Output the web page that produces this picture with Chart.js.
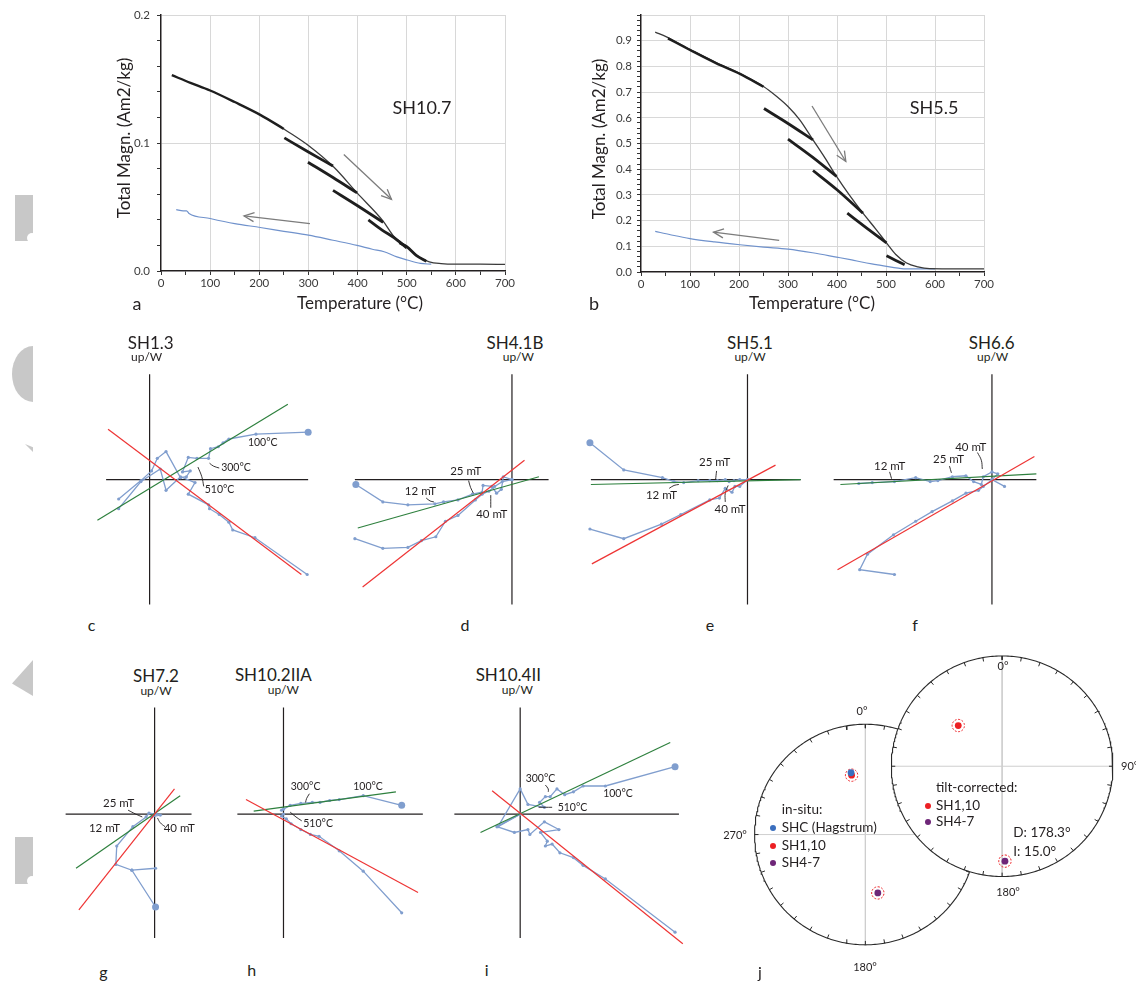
<!DOCTYPE html>
<html><head><meta charset="utf-8">
<script src="https://cdn.jsdelivr.net/npm/chart.js@4.4.0/dist/chart.umd.min.js"></script>
<style>
html,body{margin:0;padding:0;background:#fff;}
body{width:1136px;height:983px;position:relative;overflow:hidden;font-family:Lato,'Liberation Sans',sans-serif;color:#231f20;}
canvas{position:absolute;}
.tx{position:absolute;white-space:nowrap;line-height:1;}
.wm{position:absolute;background:#c8c8c8;}
.dot{position:absolute;width:6px;height:6px;border-radius:50%;transform:translate(-50%,-50%);}
</style></head><body>
<div class="wm" style="left:15px;top:195px;width:18px;height:46px;border-bottom-right-radius:0;"></div>
<div style="position:absolute;left:27px;top:233px;width:10px;height:10px;border-radius:50%;background:#fff;"></div>
<div class="wm" style="left:12px;top:346px;width:21px;height:56px;border-radius:100% 0 0 100% / 50% 0 0 50%;"></div>
<div class="wm" style="left:25px;top:444px;width:8px;height:8px;clip-path:polygon(0 0,100% 40%,100% 100%);"></div>
<div class="wm" style="left:12px;top:660px;width:21px;height:36px;clip-path:polygon(0 65%,100% 0,100% 100%);"></div>
<div class="wm" style="left:15px;top:837px;width:18px;height:47px;"></div>
<div style="position:absolute;left:27px;top:876px;width:10px;height:10px;border-radius:50%;background:#fff;"></div>
<script>
// ===================== DATA =====================
// Panel a (SH10.7): [temperature °C, magnetisation Am2/kg]
const aHeatEarly = [[22,0.153],[60,0.147],[100,0.141],[150,0.132],[202,0.122],[250,0.111]];
const aHeatMain  = [[250,0.111],[300,0.098],[352,0.081],[399,0.061],[452,0.039],[474,0.027],[501,0.019],[525,0.011],[546,0.0072],[570,0.0058],[597,0.0053],[650,0.0053],[702,0.0052]];
const aCycle1 = [[251,0.104],[300,0.093],[350,0.082]];
const aCycle2 = [[299,0.085],[350,0.073],[399,0.061]];
const aCycle3 = [[350,0.063],[400,0.051],[452,0.038]];
const aCycle4 = [[422,0.040],[450,0.032],[474,0.026],[500,0.018]];
const aCycle5 = [[485,0.022],[500,0.019],[520,0.012],[540,0.0075]];
const aCool = [[31,0.048],[45,0.047],[52,0.047],[57,0.045],[100,0.041],[150,0.037],[202,0.034],[250,0.031],[300,0.028],[350,0.024],[399,0.020],[430,0.017],[454,0.015],[480,0.011],[501,0.0086],[528,0.006],[550,0.0053]];
const aArrows = [[[372,0.091],[469,0.056]],[[303,0.037],[169,0.043]]];
// Panel b (SH5.5)
const bHeatEarly = [[55,0.909],[100,0.864],[154,0.812],[202,0.771],[250,0.721]];
const bHeatMain  = [[29,0.933],[52,0.915],[100,0.866],[154,0.814],[202,0.772],[250,0.722],[277,0.683],[300,0.644],[324,0.592],[351,0.514],[375,0.445],[399,0.372],[425,0.300],[453,0.229],[480,0.165],[501,0.113],[520,0.068],[542,0.035],[565,0.020],[589,0.013],[650,0.012],[700,0.012]];
const bCycle1 = [[251,0.636],[300,0.578],[351,0.514]];
const bCycle2 = [[300,0.517],[350,0.447],[399,0.372]];
const bCycle3 = [[351,0.395],[400,0.320],[453,0.229]];
const bCycle4 = [[421,0.229],[460,0.172],[501,0.113]];
const bCycle5 = [[501,0.063],[520,0.045],[538,0.028]];
const bCool = [[29,0.158],[60,0.145],[100,0.130],[150,0.117],[202,0.106],[250,0.097],[300,0.089],[350,0.075],[399,0.058],[430,0.047],[453,0.038],[480,0.029],[501,0.022],[525,0.015],[542,0.012],[600,0.012]];
const bArrows = [[[349,0.646],[418,0.430]],[[282,0.123],[148,0.155]]];
// tick values
const tempTicks = [0,50,100,150,200,250,300,350,400,450,500,550,600,650,700];
const aMagTicks = [0,0.02,0.04,0.06,0.08,0.1,0.12,0.14,0.16,0.18,0.2];
const bMagTicks = Array.from({length:51},(_,i)=>Math.round(i*2)/100);

// Zijderveld diagrams (relative units, x → right, y → up/W)
const cHor = [[164,49],[110,47],[82,42],[76,38],[71,34],[63,32],[61,22],[49,22],[40,23],[34,8],[42,9],[38,3],[32,2],[17,29],[8,22],[2,9],[-9,-1],[-32,-20]];
const cVer = [[163,-98],[109,-60],[86,-52],[82,-44],[72,-36],[62,-30],[61,-26],[40,-15],[47,-3],[32,3],[17,-11],[11,11],[-9,-2],[-32,-30]];
const cGreen = [[-54,-42],[143,78]];
const cRed = [[-43,52],[157,-98]];
const cAxisX = [-45,164], cAxisY = [-129,109];
const cText = [[117,38,'100°C','center'],[74,12,'300°C','left'],[57,-10,'510°C','left']];
const cLead = [[[62,17],[66,14],[72,12]],[[50,13],[54,3],[56,-7]]];

const dHor = [[-162,-5],[-134,-23],[-108,-26],[-80,-25],[-71,-23],[-56,-21],[-41,-15],[-31,-13],[-30,-6],[-21,-7],[-16,-14],[-11,-10],[-9,3],[0,0]];
const dVer = [[-163,-61],[-134,-71],[-108,-70],[-94,-63],[-79,-59],[-69,-43],[-56,-37],[-38,-21],[-31,-15],[-24,-12],[-18,-7],[-10,-2],[0,0]];
const dGreen = [[-160,-50],[28,3]];
const dRed = [[-155,-111],[13,20]];
const dAxisX = [-163,38], dAxisY = [-129,109];
const dText = [[-48,9,'25 mT','center'],[-95,-12,'12 mT','center'],[-21,-36,'40 mT','center']];
const dLead = [[[-45,-1],[-43,-8],[-40,-14]],[[-89,-19],[-85,-22],[-81,-23]],[[-22,-16],[-22,-29]]];

const eHor = [[-163,38],[-128,10],[-88,2],[-76,-2],[-66,-3],[-51,-1],[-39,-1],[-31,-1],[-23,0],[-19,-2],[-14,-1],[-8,0],[0,0]];
const eVer = [[-163,-51],[-128,-61],[-89,-46],[-69,-36],[-39,-21],[-29,-19],[-23,-9],[-16,-13],[-13,-7],[-8,-7],[0,0]];
const eGreen = [[-162,-5],[55,0]];
const eRed = [[-161,-87],[29,15]];
const eAxisX = [-162,55], eAxisY = [-129,109];
const eText = [[-34,18,'25 mT','center'],[-89,-16,'12 mT','center'],[-18,-31,'40 mT','center']];
const eLead = [[[-32,9],[-33,0]],[[-81,-9],[-76,-6],[-71,-5]],[[-20,-6],[-23,-14],[-23,-23]]];

const fHor = [[-138,-4],[-124,-3],[-101,-2],[-79,2],[-64,-2],[-56,-1],[-41,3],[-27,4],[-19,-2],[-11,-5],[-9,3],[0,8],[6,6],[0,0],[13,-7]];
const fVer = [[-101,-98],[-137,-93],[-129,-77],[-102,-57],[-79,-43],[-62,-33],[-41,-22],[-27,-14],[-14,-11],[-9,-7],[0,0]];
const fGreen = [[-157,-5],[46,6]];
const fRed = [[-160,-93],[44,24]];
const fAxisX = [-164,46], fAxisY = [-129,109];
const fText = [[-106,14,'12 mT','center'],[-45,21,'25 mT','center'],[-22,33,'40 mT','center']];
const fLead = [[[-106,8],[-104,1]],[[-44,14],[-42,7]],[[-15,28],[-11,20],[-10,11]]];

const gHor = [[1,-96],[-24,-58],[-41,-52],[-40,-33],[-23,-13],[-9,-3],[-6,1],[2,0],[6,-1],[-3,-3],[0,0]];
const gVer = [[1,-56],[-24,-58]];
const gGreen = [[-83,-56],[27,19]];
const gRed = [[-80,-99],[21,26]];
const gAxisX = [-94,39], gAxisY = [-128,110];
const gText = [[-38,11,'25 mT','center'],[-53,-15,'12 mT','center'],[26,-15,'40 mT','center']];
const gLead = [[[-28,4],[-20,0],[-13,-3]],[[11,-13],[6,-9],[3,-4]]];

const hHor = [[123,9],[83,19],[58,15],[48,14],[38,12],[30,12],[18,11],[7,9],[0,5],[-2,4]];
const hVer = [[123,-102],[83,-59],[58,-38],[37,-23],[28,-21],[18,-16],[8,-10],[3,-5],[-2,-2],[0,0]];
const hGreen = [[-31,3],[117,23]];
const hRed = [[-39,15],[140,-81]];
const hAxisX = [-48,145], hAxisY = [-128,110];
const hText = [[23,28,'300°C','center'],[88,28,'100°C','center'],[36,-10,'510°C','center']];
const hLead = [[[27,21],[24,16],[23,12]],[[7,2],[13,-3],[19,-7]]];

const iHor = [[160,49],[88,29],[65,29],[55,23],[46,20],[38,26],[31,18],[26,18],[20,12],[25,7],[8,10],[0,26],[-23,-13],[0,0]];
const iVer = [[160,-122],[88,-67],[65,-53],[55,-45],[41,-40],[33,-31],[26,-33],[28,-28],[21,-19],[40,-16],[25,-8],[10,-21],[8,-16],[-6,-19],[-24,-13],[0,0]];
const iGreen = [[-41,-19],[155,74]];
const iRed = [[-29,24],[168,-134]];
const iAxisX = [-68,164], iAxisY = [-128,110];
const iText = [[21,37,'300°C','center'],[101,21,'100°C','center'],[54,7,'510°C','center']];
const iLead = [[[26,30],[29,26],[29,23]],[[19,7],[33,7]]];

// Stereonets (equal area): declination, inclination, alpha95
const inSituNames = ['SHC (Hagstrum)','SH1,10','SH4-7'];
const inSituDec = [347, 347, 168];
const inSituInc = [42, 44, 45];
const inSituA95 = [0, 4, 4];
const tiltNames = ['SH1,10','SH4-7'];
const tiltDec = [313, 178.3];
const tiltInc = [45, 15];
const tiltA95 = [4, 4];

// ===================== DRAWING =====================
const FONT = "Lato, 'Liberation Sans', sans-serif";
Chart.defaults.font.family = FONT;
Chart.defaults.animation = false;
const BLUE = 'rgb(128,158,206)';
const GREEN = 'rgb(46,128,62)';
const RED = 'rgb(238,52,52)';
const INK = '#231f20';
const P = arr => arr.map(p => ({x:p[0], y:p[1]}));

function mkCanvas(l,t,w,h){
  const c=document.createElement('canvas');
  c.width=w;c.height=h;c.style.left=l+'px';c.style.top=t+'px';c.style.width=w+'px';c.style.height=h+'px';
  document.body.appendChild(c);return c;
}
function addText(txt,x,y,size,align,extra){
  const d=document.createElement('div');d.className='tx';d.textContent=txt;
  d.style.left=x+'px';d.style.top=y+'px';d.style.fontSize=size+'px';
  d.style.transform = align==='left' ? 'translate(0,-50%)' : 'translate(-50%,-50%)';
  if(extra) Object.assign(d.style,extra);
  document.body.appendChild(d);return d;
}
const ln = (pts,color,width,extra) => Object.assign({data:P(pts),showLine:true,borderColor:color,borderWidth:width,pointRadius:0,fill:false},extra||{});

function arrowPlugin(list){return {id:'arrows',afterDatasetsDraw(chart){
  const {ctx,scales:{x,y}}=chart;ctx.save();ctx.strokeStyle='#7c7c7c';ctx.lineWidth=1.3;
  list.forEach(a=>{const x1=x.getPixelForValue(a[0][0]),y1=y.getPixelForValue(a[0][1]),x2=x.getPixelForValue(a[1][0]),y2=y.getPixelForValue(a[1][1]);
    const g=Math.atan2(y2-y1,x2-x1);ctx.beginPath();ctx.moveTo(x1,y1);ctx.lineTo(x2,y2);ctx.stroke();
    ctx.beginPath();ctx.moveTo(x2-11*Math.cos(g-0.42),y2-11*Math.sin(g-0.42));ctx.lineTo(x2,y2);ctx.lineTo(x2-11*Math.cos(g+0.42),y2-11*Math.sin(g+0.42));ctx.stroke();});
  ctx.restore();}};}

const isMajor = (v,m) => Math.abs(v/m-Math.round(v/m))<1e-6;

function thermo(box, area, yMax, yTicks, yLabelMax, yPad, heat, cycles, cool, arrows){
  const cv=mkCanvas(box[0],box[1],box[2],box[3]);
  const ds=[];
  ds.push(ln(cool,'rgb(112,146,204)',1.2,{order:5,cubicInterpolationMode:'monotone'}));
  ds.push(ln(heat[1],'#3a3a3a',1.3,{order:3,cubicInterpolationMode:'monotone'}));
  ds.push(ln(heat[0],'#1e1e1e',2.4,{order:2,cubicInterpolationMode:'monotone'}));
  cycles.forEach(c=>ds.push(ln(c,'#1e1e1e',2.8,{order:1,cubicInterpolationMode:'monotone'})));
  return new Chart(cv,{type:'scatter',data:{datasets:ds},options:{
    responsive:false,events:[],animation:false,
    layout:{padding:{left:0,top:area[1],right:box[2]-area[2],bottom:0}},
    plugins:{legend:{display:false},tooltip:{enabled:false}},
    scales:{
      x:{type:'linear',min:0,max:700,
        afterBuildTicks:s=>{s.ticks=tempTicks.map(v=>({value:v}));},
        afterFit:s=>{s.height=box[3]-area[3];},
        ticks:{autoSkip:false,maxRotation:0,minRotation:0,padding:1,color:'#3a3a3a',font:{size:11.5},callback:v=>isMajor(v,100)?String(v):''},
        grid:{color:c=>(c.tick&&isMajor(c.tick.value,100)&&c.tick.value>0)?'#d8d8d8':'rgba(0,0,0,0)',tickColor:'#333',tickLength:4,lineWidth:1},
        border:{color:INK,width:1.5}},
      y:{type:'linear',min:0,max:yMax,
        afterBuildTicks:s=>{s.ticks=yTicks.map(v=>({value:v}));},
        afterFit:s=>{s.width=area[0];},
        ticks:{autoSkip:false,padding:yPad,color:'#3a3a3a',font:{size:11.5},callback:v=>(isMajor(v,0.1)&&v<=yLabelMax+1e-9)?v.toFixed(1):''},
        grid:{color:c=>(c.tick&&isMajor(c.tick.value,0.1)&&c.tick.value>0)?'#d8d8d8':'rgba(0,0,0,0)',tickColor:'#333',tickLength:4,lineWidth:1},
        border:{color:INK,width:1.5}}
    }},plugins:[arrowPlugin(arrows)]});
}

// panel a: canvas 95..520 x 0..320 ; chart area 161..505 x 15..271
thermo([95,0,425,320],[66,15,410,271],0.2,aMagTicks,0.2,7,[aHeatEarly,aHeatMain],[aCycle1,aCycle2,aCycle3,aCycle4,aCycle5],aCool,aArrows);
// panel b: canvas 575..1000 ; chart area 641..984 x 15..272
thermo([575,0,425,320],[66,15,409,272],1.0,bMagTicks,0.9,5,[bHeatEarly,bHeatMain],[bCycle1,bCycle2,bCycle3,bCycle4,bCycle5],bCool,bArrows);

addText('Temperature (°C)',360,302,17);
addText('Temperature (°C)',812,302,17);
addText('Total Magn. (Am2/kg)',123,138,17,'c',{transform:'translate(-50%,-50%) rotate(-90deg)'});
addText('Total Magn. (Am2/kg)',598,139,17,'c',{transform:'translate(-50%,-50%) rotate(-90deg)'});
addText('SH10.7',422,107,18);
addText('SH5.5',934,107,18);
addText('a',137,303,18);
addText('b',594,303,18);

function textPlugin(items){return {id:'ztext',afterDatasetsDraw(chart){
  const {ctx,scales:{x,y}}=chart;ctx.save();ctx.fillStyle=INK;ctx.textBaseline='middle';
  items.forEach(it=>{ctx.font=(it[2].indexOf('mT')>=0?'11.5px ':'10.5px ')+FONT;ctx.textAlign=it[3];ctx.fillText(it[2],x.getPixelForValue(it[0]),y.getPixelForValue(it[1]));});
  ctx.restore();}};}

function zij(box, origin, hor, ver, green, red, axX, axY, texts, leads, bigFirst){
  const cv=mkCanvas(box[0],box[1],box[2],box[3]);
  const ds=[];
  ds.push(ln([[axX[0],0],[axX[1],0]],INK,1.2,{order:20}));
  ds.push(ln([[0,axY[1]],[0,axY[0]]],INK,1.2,{order:20}));
  const bl = big => ({order:10,pointRadius:c=>(big&&c.dataIndex===0)?3.5:1.6,pointBackgroundColor:BLUE,pointBorderColor:BLUE,pointBorderWidth:0});
  ds.push(ln(hor,BLUE,1.3,bl(bigFirst===1)));
  ds.push(ln(ver,BLUE,1.3,bl(bigFirst===2)));
  leads.forEach(l=>ds.push(ln(l,INK,0.9,{order:8,tension:0.4})));
  ds.push(ln(green,GREEN,1.2,{order:2}));
  ds.push(ln(red,RED,1.2,{order:1}));
  const xmin=box[0]-origin[0],xmax=box[0]+box[2]-origin[0],ymax=origin[1]-box[1],ymin=origin[1]-(box[1]+box[3]);
  return new Chart(cv,{type:'scatter',data:{datasets:ds},options:{
    responsive:false,events:[],animation:false,layout:{padding:0},
    plugins:{legend:{display:false},tooltip:{enabled:false}},
    scales:{x:{type:'linear',display:false,min:xmin,max:xmax},y:{type:'linear',display:false,min:ymin,max:ymax}}
  },plugins:[textPlugin(texts)]});
}

zij([85,365,240,250],[147.7,479.3],cHor,cVer,cGreen,cRed,cAxisX,cAxisY,cText,cLead,1);
zij([340,365,220,250],[514.3,479.3],dHor,dVer,dGreen,dRed,dAxisX,dAxisY,dText,dLead,1);
zij([575,365,240,250],[749.3,479.3],eHor,eVer,eGreen,eRed,eAxisX,eAxisY,eText,eLead,1);
zij([820,365,230,250],[994,479.3],fHor,fVer,fGreen,fRed,fAxisX,fAxisY,fText,fLead,0);
zij([55,700,150,250],[156,813.7],gHor,gVer,gGreen,gRed,gAxisX,gAxisY,gText,gLead,1);
zij([225,700,205,250],[281.7,813.7],hHor,hVer,hGreen,hRed,hAxisX,hAxisY,hText,hLead,1);
zij([440,700,250,250],[518.7,813.7],iHor,iVer,iGreen,iRed,iAxisX,iAxisY,iText,iLead,1);

const zTitles=[['SH1.3',150.7,341.7,146.7,'c',91.7,625],['SH4.1B',515,341.7,518.3,'d',465,625],['SH5.1',750,341.7,750,'e',710,625],['SH6.6',991.7,341.7,992.7,'f',915,625],
  ['SH7.2',156,675,156,'g',103.3,971.7],['SH10.2IIA',273.3,674,283.3,'h',251.7,970],['SH10.4II',508.3,674,517.3,'i',486.7,970]];
zTitles.forEach(t=>{addText(t[0],t[1],t[2],17);addText('up/W',t[3],t[2]+15.5,12);addText(t[4],t[5],t[6],16);});

// ---------- stereonets ----------
(function(){
  const R=113, L={x:0,y:0}, Rc={x:139.5,y:70};
  const cv=mkCanvas(730,650,406,333);
  const deg=Math.PI/180;
  const inside=(x,y)=>((x-Rc.x)**2+(y-Rc.y)**2)<R*R-1;
  const proj=(c,D,I)=>{const r=R*Math.SQRT2*Math.sin((90-Math.abs(I))/2*deg);return {x:c.x+r*Math.sin(D*deg),y:c.y+r*Math.cos(D*deg)};};
  function circle(c,clip){const pts=[];for(let a=0;a<=360;a+=1){const x=c.x+R*Math.sin(a*deg),y=c.y+R*Math.cos(a*deg);pts.push(clip&&inside(x,y)?{x:x,y:null}:{x,y});}return pts;}
  function ticks(c,clip){const pts=[];for(let a=0;a<360;a+=10){const s=Math.sin(a*deg),co=Math.cos(a*deg);const p1={x:c.x+R*s,y:c.y+R*co},p2={x:c.x+(R-4)*s,y:c.y+(R-4)*co};if(clip&&(inside(p1.x,p1.y)||inside(p2.x,p2.y)))continue;pts.push(p1,p2,{x:p2.x,y:null});}return pts;}
  function ring(p,a95){const rr=a95*deg*R*0.8;const pts=[];for(let a=0;a<=360;a+=10)pts.push({x:p.x+rr*Math.sin(a*deg),y:p.y+rr*Math.cos(a*deg)});return pts;}
  const base={showLine:true,pointRadius:0,fill:false,spanGaps:false};
  const ds=[];
  const xi=Rc.x-Math.sqrt(R*R-Rc.y*Rc.y);
  ds.push(Object.assign({},base,{data:[{x:-R,y:0},{x:xi,y:0},{x:xi,y:null},{x:0,y:R},{x:0,y:-R}],borderColor:'#cfcfcf',borderWidth:1,order:30}));
  ds.push(Object.assign({},base,{data:circle(L,true),borderColor:'#2a2a2a',borderWidth:1.1,order:25}));
  ds.push(Object.assign({},base,{data:ticks(L,true),borderColor:'#2a2a2a',borderWidth:1,order:25}));
  ds.push(Object.assign({},base,{data:[{x:Rc.x-R,y:Rc.y},{x:Rc.x+R,y:Rc.y},{x:Rc.x+R,y:null},{x:Rc.x,y:Rc.y+R},{x:Rc.x,y:Rc.y-R}],borderColor:'#cfcfcf',borderWidth:1,order:30}));
  ds.push(Object.assign({},base,{data:circle(Rc,false),borderColor:'#2a2a2a',borderWidth:1.1,order:25}));
  ds.push(Object.assign({},base,{data:ticks(Rc,false),borderColor:'#2a2a2a',borderWidth:1,order:25}));
  const colors={'SHC (Hagstrum)':'rgb(58,110,190)','SH1,10':'rgb(236,32,36)','SH4-7':'rgb(110,38,120)'};
  const dotOrder={'SHC (Hagstrum)':1,'SH1,10':3,'SH4-7':3};
  inSituNames.forEach((n,i)=>{const p=proj(L,inSituDec[i],inSituInc[i]);
    if(inSituA95[i]>0) ds.push(Object.assign({},base,{data:ring(p,inSituA95[i]),borderColor:'rgb(236,32,36)',borderWidth:1,borderDash:[2,1.5],order:5}));
    ds.push({data:[p],showLine:false,pointRadius:3.4,pointBackgroundColor:colors[n],pointBorderWidth:0,order:dotOrder[n]});});
  tiltNames.forEach((n,i)=>{const p=proj(Rc,tiltDec[i],tiltInc[i]);
    ds.push(Object.assign({},base,{data:ring(p,tiltA95[i]),borderColor:'rgb(236,32,36)',borderWidth:1,borderDash:[2,1.5],order:5}));
    ds.push({data:[p],showLine:false,pointRadius:3.4,pointBackgroundColor:colors[n],pointBorderWidth:0,order:3});});
  new Chart(cv,{type:'scatter',data:{datasets:ds},options:{responsive:false,events:[],animation:false,layout:{padding:0},
    plugins:{legend:{display:false},tooltip:{enabled:false}},
    scales:{x:{type:'linear',display:false,min:-134,max:272},y:{type:'linear',display:false,min:-148,max:185}}}});
  // labels
  addText('0°',862,710,11);addText('180°',865,966,11);addText('270°',735,834,11);
  addText('0°',1003,665,11);addText('180°',1008,891,11);addText('90°',1121,765,11,'left');
  addText('in-situ:',781.7,810,13.5,'left');
  inSituNames.forEach((n,i)=>{addText(n,781.7,828+i*17.5,13.5,'left');const d=document.createElement('div');d.className='dot';d.style.left='773px';d.style.top=(828+i*17.5)+'px';d.style.background=colors[n];document.body.appendChild(d);});
  addText('tilt-corrected:',936,788,13.5,'left');
  tiltNames.forEach((n,i)=>{addText(n,936,805.7+i*16.6,13.5,'left');const d=document.createElement('div');d.className='dot';d.style.left='928.3px';d.style.top=(805.7+i*16.6)+'px';d.style.background=colors[n];document.body.appendChild(d);});
  addText('D: '+tiltDec[1].toFixed(1)+'°',1013.3,833,13.5,'left');
  addText('I: '+tiltInc[1].toFixed(1)+'°',1013.3,852,13.5,'left');
  addText('j',760,972,16);
})();
</script>
</body></html>
